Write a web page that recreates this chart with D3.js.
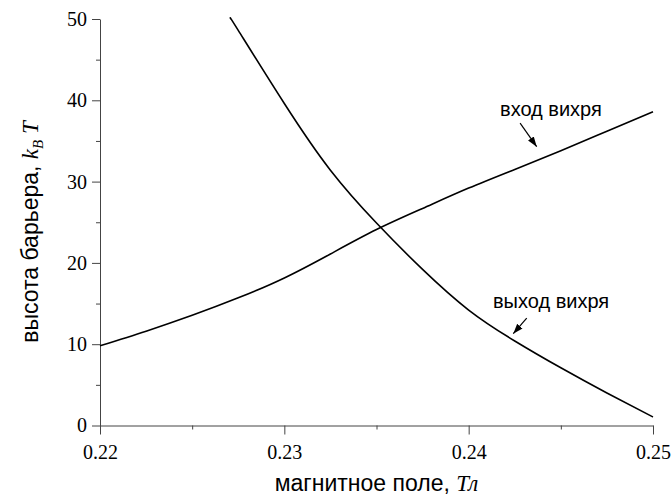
<!DOCTYPE html>
<html>
<head>
<meta charset="utf-8">
<script src="https://cdn.jsdelivr.net/npm/d3@7"></script>
<style>
  body { margin: 0; background: #fff; }
</style>
</head>
<body>
<svg id="chart" width="672" height="499"></svg>
<script>
// данные
const fieldEntry = [0.22, 0.2225, 0.225, 0.2275, 0.23, 0.2325, 0.235, 0.2375, 0.24, 0.2425, 0.245, 0.2475, 0.25];
const barrierEntry = [9.8, 11.6, 13.55, 15.7, 18.15, 21.1, 24.1, 26.7, 29.2, 31.5, 33.8, 36.2, 38.6];

const fieldExit = [0.2271, 0.2275, 0.23, 0.2325, 0.235, 0.2375, 0.24, 0.2425, 0.245, 0.2475, 0.25];
const barrierExit = [50, 48.6, 39.6, 31.4, 24.9, 19.2, 14.2, 10.4, 7.1, 4.0, 1.05];

const xTicks = [0.22, 0.23, 0.24, 0.25];
const xMinor = [0.225, 0.235, 0.245];
const yTicks = [0, 10, 20, 30, 40, 50];
const yMinor = [5, 15, 25, 35, 45];

// подписи со стрелками (в координатах данных)
const notes = [
  { text: "вход вихря", x: 0.2417, y: 38.1, from: [0.24279, 37.2], to: [0.24369, 34.3] },
  { text: "выход вихря", x: 0.24132, y: 14.45, from: [0.24315, 13.2], to: [0.24242, 11.3] }
];

const svg = d3.select("#chart");
const attr_area = { left: 100, right: 653, top: 19, bottom: 425.5 };

const scaleX = d3.scaleLinear().domain([0.22, 0.25]).range([attr_area.left, attr_area.right]);
const scaleY = d3.scaleLinear().domain([0, 50]).range([attr_area.bottom, attr_area.top]);

const serif = "'Liberation Serif', 'Times New Roman', serif";
const sans = "'Liberation Sans', Arial, sans-serif";

function styleAxis(g) {
  g.select(".domain").attr("stroke", "#444");
  g.selectAll(".tick line").attr("stroke", "#444");
  g.selectAll("text").attr("fill", "#000").style("font-family", serif).style("font-size", "20px");
}

// ось X
svg.append("g")
  .attr("transform", `translate(0, ${attr_area.bottom})`)
  .call(d3.axisBottom(scaleX).tickValues(xTicks).tickSize(9).tickPadding(10).tickSizeOuter(0)
    .tickFormat(d3.format(".2f")))
  .call(styleAxis);
svg.append("g")
  .attr("transform", `translate(0, ${attr_area.bottom})`)
  .call(d3.axisBottom(scaleX).tickValues(xMinor).tickSize(4).tickFormat(""))
  .call(g => g.select(".domain").remove())
  .call(styleAxis);

// ось Y
svg.append("g")
  .attr("transform", `translate(${attr_area.left}, 0)`)
  .call(d3.axisLeft(scaleY).tickValues(yTicks).tickSize(8).tickPadding(5).tickSizeOuter(0))
  .call(styleAxis);
svg.append("g")
  .attr("transform", `translate(${attr_area.left}, 0)`)
  .call(d3.axisLeft(scaleY).tickValues(yMinor).tickSize(4).tickFormat(""))
  .call(g => g.select(".domain").remove())
  .call(styleAxis);

// кривые
const line = d3.line()
  .x(d => scaleX(d[0]))
  .y(d => scaleY(d[1]))
  .curve(d3.curveNatural);

svg.append("path")
  .datum(d3.zip(fieldEntry, barrierEntry))
  .attr("fill", "none")
  .attr("stroke", "#000")
  .attr("stroke-width", 1.6)
  .attr("d", line);

svg.append("path")
  .datum(d3.zip(fieldExit, barrierExit))
  .attr("fill", "none")
  .attr("stroke", "#000")
  .attr("stroke-width", 1.6)
  .attr("d", line);

// стрелки
svg.append("defs").append("marker")
  .attr("id", "arrow")
  .attr("viewBox", "0 0 10 10")
  .attr("refX", 10).attr("refY", 5)
  .attr("markerWidth", 10).attr("markerHeight", 10)
  .attr("markerUnits", "userSpaceOnUse")
  .attr("orient", "auto")
  .append("path")
  .attr("d", "M0,1.5 L10,5 L0,8.5 Z")
  .attr("fill", "#000");

notes.forEach(n => {
  svg.append("text")
    .attr("x", scaleX(n.x))
    .attr("y", scaleY(n.y))
    .style("font-family", sans)
    .style("font-size", "20px")
    .text(n.text);
  svg.append("line")
    .attr("x1", scaleX(n.from[0])).attr("y1", scaleY(n.from[1]))
    .attr("x2", scaleX(n.to[0])).attr("y2", scaleY(n.to[1]))
    .attr("stroke", "#000")
    .attr("stroke-width", 1.2)
    .attr("marker-end", "url(#arrow)");
});

// подписи осей
const xTitle = svg.append("text")
  .attr("x", (attr_area.left + attr_area.right) / 2)
  .attr("y", 491)
  .attr("text-anchor", "middle")
  .style("font-family", sans)
  .style("font-size", "23px");
xTitle.append("tspan").text("магнитное поле, ");
xTitle.append("tspan").style("font-family", serif).style("font-style", "italic").text("Тл");

const yTitle = svg.append("text")
  .attr("transform", "translate(38, 232) rotate(-90)")
  .attr("text-anchor", "middle")
  .style("font-family", sans)
  .style("font-size", "23px");
yTitle.append("tspan").text("высота барьера, ");
yTitle.append("tspan").style("font-family", serif).style("font-style", "italic").text("k");
yTitle.append("tspan").style("font-family", serif).style("font-style", "italic")
  .style("font-size", "15px").attr("dy", 5).text("B");
yTitle.append("tspan").style("font-family", serif).style("font-style", "italic")
  .attr("dy", -5).text(" T");
</script>
</body>
</html>
